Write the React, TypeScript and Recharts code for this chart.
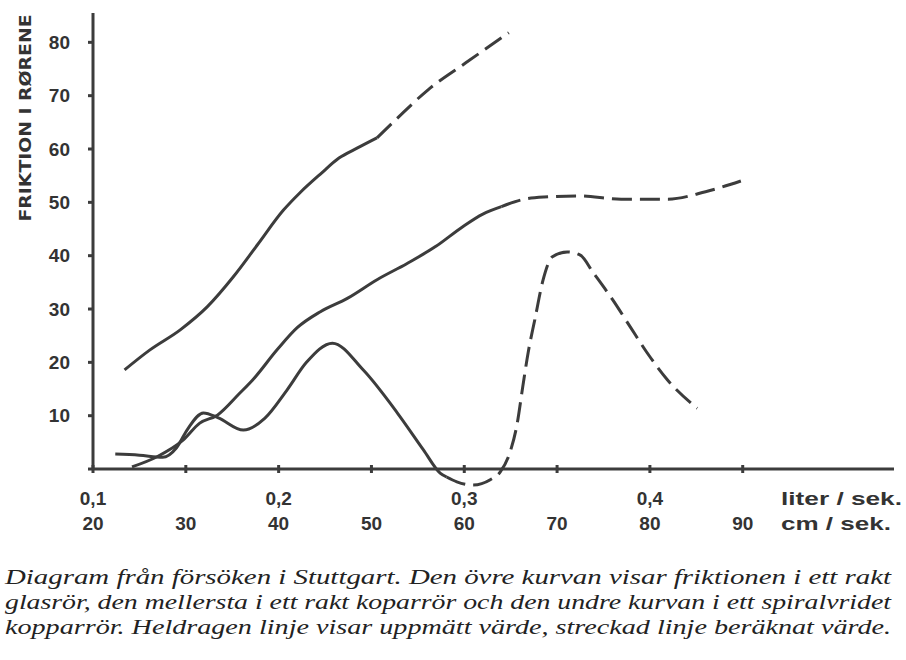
import { LineChart, Line, XAxis, YAxis, ReferenceLine } from 'recharts';

// velocity ticks (cm/sek) and the matching flow labels (liter/sek)
const cmTicks = [20, 30, 40, 50, 60, 70, 80, 90];
const literAt = [20, 40, 60, 80];
const literTicks = ['0,1', '0,2', '0,3', '0,4'];
const yTicks = [0, 10, 20, 30, 40, 50, 60, 70, 80];

// [cm/sek, friktion]
const glassMeasured = [
  [23.4, 18.6], [26.1, 22.3], [29.4, 26.1], [32.3, 30.4], [35.1, 36], [37.7, 42],
  [40.5, 48.5], [42.3, 51.8], [44.5, 55.3], [46.5, 58.3], [48.5, 60.2], [50.6, 62.1],
];
const glassComputed = [[50.6, 62.1], [52.8, 65.8], [56.1, 71.1], [60.2, 76.2], [64.8, 81.8]];

const copperMeasured = [
  [24.2, 0.4], [26.9, 2.3], [29.7, 5.4], [31.5, 8.6], [33.4, 10.1], [35.8, 14.2], [37.2, 16.7],
  [39.9, 22.5], [42, 26.5], [44.5, 29.5], [47.4, 32], [50.6, 35.5], [53.8, 38.5], [56.9, 41.7],
  [59.8, 45.4], [62, 47.8], [64, 49.2],
];
const copperComputed = [
  [64, 49.2], [66.5, 50.6], [68.6, 51], [72.3, 51.2], [76.9, 50.6], [81.9, 50.6], [86, 52], [89.8, 54],
];

const spiralMeasured = [
  [22.4, 2.8], [25, 2.6], [27.5, 2.2], [29, 4], [30.2, 7.5], [31.9, 10.5], [33.5, 9.6],
  [36.2, 7.3], [38.5, 9.5], [40.9, 14.8], [43, 20], [45.8, 23.6], [49.1, 18.6], [52.8, 10.5],
  [55.6, 3.6], [57.4, -0.75], [58.1, -1.5],
];
const spiralComputed = [
  [58.1, -1.5], [59.2, -2.4], [60.9, -3], [62.8, -2], [63.9, -0.5], [64.9, 3], [65.7, 8.5],
  [66.3, 15.4], [66.9, 22], [67.6, 28], [68.5, 35.5], [69.5, 39.8], [71.1, 40.7], [72.5, 40.1],
  [73.9, 36.8], [76, 31.7], [77.9, 26.6], [79.7, 21.8], [81.9, 16.7], [85.1, 11.4],
];

const captionLines = [
  'Diagram från försöken i Stuttgart. Den övre kurvan visar friktionen i ett rakt',
  'glasrör, den mellersta i ett rakt koparrör och den undre kurvan i ett spiralvridet',
  'kopparrör. Heldragen linje visar uppmätt värde, streckad linje beräknat värde.',
];

const INK = '#3c3c3c';
const tickFont = { fontFamily: 'Liberation Sans', fontWeight: 700, fontSize: 19, fill: '#333' };

const toRows = (pts: number[][]) => pts.map(([x, y]) => ({ x, y }));

// the x axis line sits on y = 0 (a reference line), the spiral curve dips below it,
// so the tick marks and both label rows are drawn here
const XTick = (props: any) => {
  const { x, payload } = props;
  const i = literAt.indexOf(payload.value);
  return (
    <g>
      <line x1={x} x2={x} y1={465} y2={473} stroke={INK} strokeWidth={3} />
      {i >= 0 && (
        <text x={x} y={498} textAnchor="middle" dominantBaseline="central" {...tickFont}>
          {literTicks[i]}
        </text>
      )}
      <text x={x} y={523} textAnchor="middle" dominantBaseline="central" {...tickFont}>
        {payload.value}
      </text>
      {payload.value === 90 && (
        <>
          <text x={781} y={498} dominantBaseline="central" textLength={121} lengthAdjust="spacingAndGlyphs" {...tickFont}>
            liter / sek.
          </text>
          <text x={781} y={523} dominantBaseline="central" textLength={110} lengthAdjust="spacingAndGlyphs" {...tickFont}>
            cm / sek.
          </text>
        </>
      )}
    </g>
  );
};

const YLabel = () => (
  <text
    x={31}
    y={118}
    transform="rotate(-90 31 118)"
    textAnchor="middle"
    textLength={207}
    lengthAdjust="spacingAndGlyphs"
    fontFamily="DejaVu Sans"
    fontWeight={700}
    fontSize={15}
    fill="#333"
  >
    FRIKTION I RØRENE
  </text>
);

const series = [
  { key: 'glass-m', pts: glassMeasured, dash: undefined },
  { key: 'glass-c', pts: glassComputed, dash: '20 8' },
  { key: 'copper-m', pts: copperMeasured, dash: undefined },
  { key: 'copper-c', pts: copperComputed, dash: '20 8' },
  { key: 'spiral-m', pts: spiralMeasured, dash: undefined },
  { key: 'spiral-c', pts: spiralComputed, dash: '20 8' },
];

export default function App() {
  return (
    <div style={{ position: 'absolute', left: 0, top: 0, width: 906, height: 660, background: '#fff' }}>
      <LineChart width={906} height={570} margin={{ top: 13, right: 12, bottom: 2.3, left: 33 }}>
        <XAxis
          type="number"
          dataKey="x"
          domain={[20, 106.3]}
          ticks={cmTicks}
          interval={0}
          height={80}
          tick={<XTick />}
          axisLine={false}
          tickLine={false}
        />
        <YAxis
          type="number"
          dataKey="y"
          domain={[-3.5, 85.5]}
          ticks={yTicks}
          interval={0}
          width={60}
          tickSize={5}
          tickMargin={18}
          tickFormatter={(v: number) => (v === 0 ? '' : String(v))}
          tick={tickFont}
          axisLine={false}
          tickLine={{ stroke: INK, strokeWidth: 3 }}
          label={<YLabel />}
        />
        <ReferenceLine
          segment={[{ x: 20, y: 0 }, { x: 20, y: 85.5 }]}
          stroke={INK}
          strokeWidth={3}
        />
        <ReferenceLine
          segment={[{ x: 20, y: 0 }, { x: 106.3, y: 0 }]}
          stroke={INK}
          strokeWidth={3}
        />
        {series.map((s) => (
          <Line
            key={s.key}
            data={toRows(s.pts)}
            dataKey="y"
            type="monotone"
            stroke={INK}
            strokeWidth={3}
            strokeDasharray={s.dash}
            dot={false}
            activeDot={false}
            isAnimationActive={false}
          />
        ))}
      </LineChart>
      <svg width={906} height={110} style={{ position: 'absolute', left: 0, top: 550 }}>
        {captionLines.map((line, i) => (
          <text
            key={i}
            x={5}
            y={34 + i * 25}
            textLength={886}
            lengthAdjust="spacingAndGlyphs"
            fontFamily="Liberation Serif"
            fontStyle="italic"
            fontSize={20}
            fill="#222"
          >
            {line}
          </text>
        ))}
      </svg>
    </div>
  );
}
